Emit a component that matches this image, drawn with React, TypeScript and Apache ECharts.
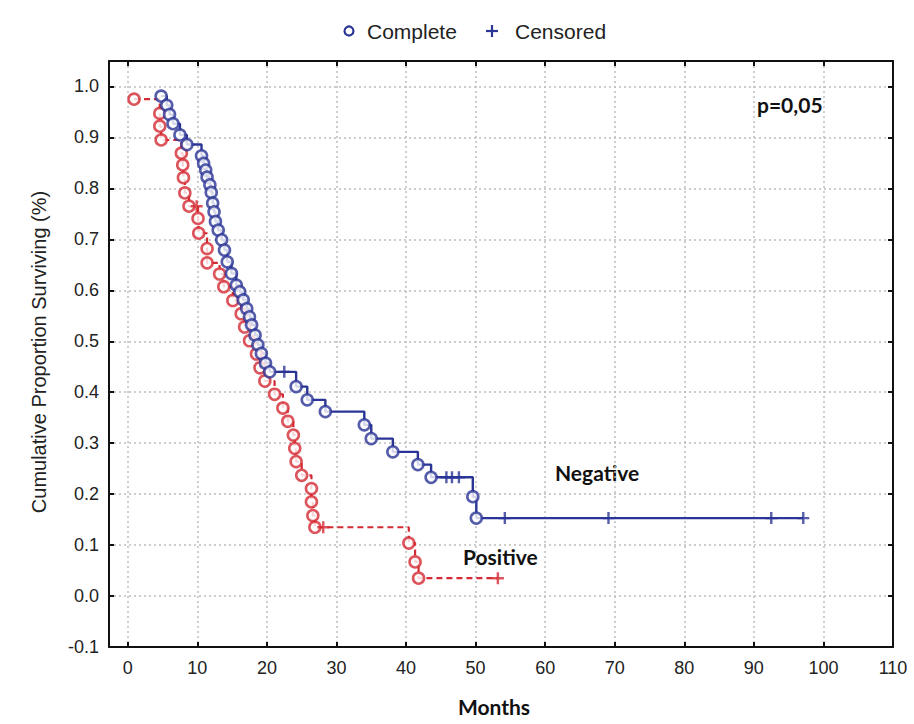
import React, { useEffect, useRef } from "react";
import * as echarts from "echarts";

// Axis ticks
const xTicks = [0, 10, 20, 30, 40, 50, 60, 70, 80, 90, 100, 110];
const yTicks = [-0.1, 0.0, 0.1, 0.2, 0.3, 0.4, 0.5, 0.6, 0.7, 0.8, 0.9, 1.0];

// Negative group (blue): complete events (month, cumulative proportion surviving)
const negEventMonths = [4.8, 5.6, 6.0, 6.5, 7.5, 8.5, 10.6, 10.9, 11.2, 11.4, 11.8, 12.0, 12.2, 12.4, 12.6, 13.0, 13.5, 13.9, 14.3, 14.9, 15.6, 16.1, 16.6, 17.1, 17.5, 17.8, 18.3, 18.7, 19.2, 19.8, 20.4, 24.2, 25.8, 28.4, 34.0, 35.0, 38.1, 41.7, 43.6, 49.6, 50.1];
const negEventSurv = [0.981, 0.963, 0.945, 0.927, 0.905, 0.886, 0.864, 0.849, 0.836, 0.822, 0.807, 0.792, 0.771, 0.754, 0.735, 0.718, 0.699, 0.679, 0.656, 0.633, 0.610, 0.597, 0.581, 0.564, 0.548, 0.532, 0.512, 0.493, 0.476, 0.457, 0.440, 0.411, 0.385, 0.362, 0.336, 0.309, 0.283, 0.258, 0.233, 0.195, 0.153];
// Negative group: censored
const negCensorMonths = [22.5, 45.8, 46.6, 47.6, 54.2, 69.1, 92.5, 97.1];
const negCensorSurv = [0.440, 0.233, 0.233, 0.233, 0.153, 0.153, 0.153, 0.153];

// Positive group (red): complete events
const posEventMonths = [0.9, 4.6, 4.6, 4.8, 7.7, 7.9, 8.0, 8.2, 8.8, 10.1, 10.2, 11.4, 11.4, 13.2, 13.8, 15.1, 16.3, 16.8, 17.5, 18.5, 19.0, 19.7, 21.1, 22.3, 23.0, 23.8, 24.0, 24.2, 25.0, 26.4, 26.4, 26.6, 26.9, 40.4, 41.3, 41.8];
const posEventSurv = [0.975, 0.947, 0.922, 0.895, 0.869, 0.846, 0.821, 0.791, 0.765, 0.741, 0.712, 0.682, 0.654, 0.632, 0.607, 0.580, 0.554, 0.528, 0.501, 0.475, 0.448, 0.422, 0.396, 0.369, 0.343, 0.316, 0.290, 0.264, 0.237, 0.211, 0.185, 0.158, 0.135, 0.104, 0.067, 0.035];
// Positive group: censored
const posCensorMonths = [9.9, 28.1, 53.2];
const posCensorSurv = [0.765, 0.135, 0.035];

const BLUE = "#2a3596";
const RED = "#d42a33";
const PLUS = "path://M-1.2,-6H1.2V-1.2H6V1.2H1.2V6H-1.2V1.2H-6V-1.2H-1.2Z";

function pairs(xs: number[], ys: number[]) {
  return xs.map((x, i) => [x, ys[i]]);
}

function stepData(et: number[], es: number[], ct: number[], cs: number[]) {
  const pts = [
    ...et.map((t, i) => ({ t, s: es[i], k: 0, i })),
    ...ct.map((t, i) => ({ t, s: cs[i], k: 1, i })),
  ];
  pts.sort((a, b) => (a.t - b.t) || (a.k - b.k) || (a.i - b.i));
  return pts.map((p) => [p.t, p.s]);
}

export default function App() {
  const ref = useRef<HTMLDivElement>(null);
  useEffect(() => {
    if (!ref.current) return;
    const chart = echarts.init(ref.current, undefined, { renderer: "svg" });
    const axisLine = { show: true, onZero: false, lineStyle: { color: "#111", width: 2 } };
    const tickStyle = { show: true, inside: true, length: 5, lineStyle: { color: "#111", width: 2 } };
    const labelFont = { color: "#222", fontFamily: "Liberation Sans, Arial, sans-serif", fontSize: 18 };
    const boldFont = "bold 21px Lato, 'Open Sans', sans-serif";
    const xMin = -2.7;
    const xMax = 110;
    const yMin = -0.1;
    const yMax = 1.05;
    chart.setOption({
      animation: false,
      backgroundColor: "#ffffff",
      grid: { left: 109, right: 21, top: 61, bottom: 77, containLabel: false, outerBoundsMode: "none" },
      xAxis: [
        {
          type: "value", min: xMin, max: xMax, position: "bottom",
          axisLine, axisTick: { ...tickStyle, customValues: xTicks },
          axisLabel: { ...labelFont, margin: 12, customValues: xTicks, formatter: (v: number) => String(v) },
          splitLine: { show: true, lineStyle: { color: "#bdbdbd", type: [2, 3], width: 1.5 } },
        },
        {
          type: "value", min: xMin, max: xMax, position: "top",
          axisLine, axisTick: { ...tickStyle, customValues: xTicks },
          axisLabel: { show: false }, splitLine: { show: false },
        },
      ],
      yAxis: [
        {
          type: "value", min: yMin, max: yMax, position: "left",
          axisLine, axisTick: { ...tickStyle, customValues: yTicks },
          axisLabel: { ...labelFont, margin: 10, customValues: yTicks, formatter: (v: number) => v.toFixed(1) },
          splitLine: { show: true, lineStyle: { color: "#bdbdbd", type: [2, 3], width: 1.5 } },
        },
        {
          type: "value", min: yMin, max: yMax, position: "right",
          axisLine, axisTick: { ...tickStyle, customValues: yTicks },
          axisLabel: { show: false }, splitLine: { show: false },
        },
      ],
      series: [
        {
          type: "line", step: "end", showSymbol: false, symbol: "none",
          data: stepData(posEventMonths, posEventSurv, posCensorMonths, posCensorSurv),
          lineStyle: { color: RED, width: 2.2, type: [6, 4] }, z: 2,
        },
        {
          type: "line", step: "end", showSymbol: false, symbol: "none",
          data: stepData(negEventMonths, negEventSurv, negCensorMonths, negCensorSurv),
          lineStyle: { color: BLUE, width: 2.4 }, z: 2,
        },
        {
          type: "scatter", data: pairs(posEventMonths, posEventSurv), symbol: "circle", symbolSize: 11,
          itemStyle: { color: "#ffffff", borderColor: RED, borderWidth: 2.6 }, z: 3,
        },
        {
          type: "scatter", data: pairs(posCensorMonths, posCensorSurv), symbol: PLUS, symbolSize: 12,
          itemStyle: { color: RED }, z: 3,
        },
        {
          type: "scatter", data: pairs(negEventMonths, negEventSurv), symbol: "circle", symbolSize: 11,
          itemStyle: { color: "#ffffff", borderColor: BLUE, borderWidth: 2.6 }, z: 4,
        },
        {
          type: "scatter", data: pairs(negCensorMonths, negCensorSurv), symbol: PLUS, symbolSize: 12,
          itemStyle: { color: BLUE }, z: 4,
        },
      ],
      graphic: [
        // legend
        { type: "circle", shape: { cx: 349, cy: 31, r: 4.5 }, style: { fill: "none", stroke: BLUE, lineWidth: 2.2 } },
        { type: "text", x: 367, y: 31, style: { text: "Complete", font: "21px 'Liberation Sans', Arial, sans-serif", fill: "#222", verticalAlign: "middle", align: "left" } },
        { type: "line", shape: { x1: 486, y1: 31, x2: 498, y2: 31 }, style: { stroke: BLUE, lineWidth: 2.2 } },
        { type: "line", shape: { x1: 492, y1: 25, x2: 492, y2: 37 }, style: { stroke: BLUE, lineWidth: 2.2 } },
        { type: "text", x: 515, y: 31, style: { text: "Censored", font: "21px 'Liberation Sans', Arial, sans-serif", fill: "#222", verticalAlign: "middle", align: "left" } },
        // axis titles
        { type: "text", x: 39, y: 352, rotation: Math.PI / 2, style: { text: "Cumulative Proportion Surviving (%)", font: "20px 'Liberation Sans', Arial, sans-serif", fill: "#222", align: "center", verticalAlign: "middle" } },
        { type: "text", x: 494, y: 706, style: { text: "Months", font: boldFont, fill: "#111", align: "center", verticalAlign: "middle" } },
        // annotations
        { type: "text", x: 757, y: 104, style: { text: "p=0,05", font: boldFont, fill: "#111", align: "left", verticalAlign: "middle" } },
        { type: "text", x: 555, y: 472, style: { text: "Negative", font: boldFont, fill: "#111", align: "left", verticalAlign: "middle" } },
        { type: "text", x: 463, y: 556, style: { text: "Positive", font: boldFont, fill: "#111", align: "left", verticalAlign: "middle" } },
      ],
    });
    return () => chart.dispose();
  }, []);
  return <div ref={ref} style={{ width: 914, height: 724, position: "absolute", left: 0, top: 0 }} />;
}
